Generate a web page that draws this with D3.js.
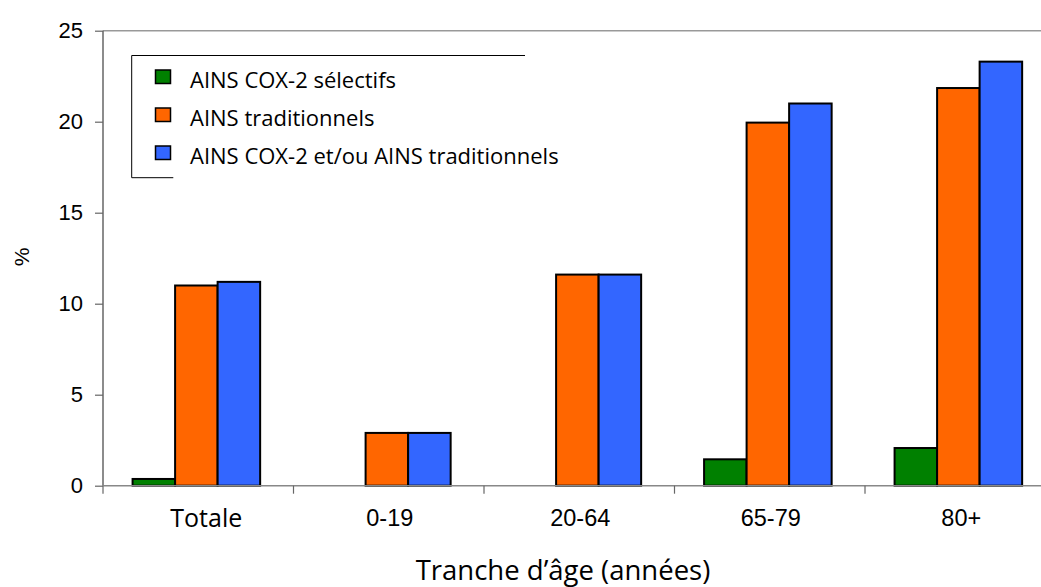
<!DOCTYPE html>
<html><head><meta charset="utf-8">
<script src="https://cdn.jsdelivr.net/npm/d3@7"></script>
<style>html,body{margin:0;padding:0;background:#fff;overflow:hidden}</style>
</head><body>
<svg id="chart" width="1041" height="587"></svg>
<script>
const categories = ["Totale", "0-19", "20-64", "65-79", "80+"];
const seriesNames = ["AINS COX-2 sélectifs", "AINS traditionnels", "AINS COX-2 et/ou AINS traditionnels"];
const seriesColors = ["#008000", "#FF6600", "#3366FF"];
const cox2 = [0.37, null, null, 1.45, 2.07];
const traditionnels = [11.0, 2.9, 11.6, 19.95, 21.85];
const combined = [11.2, 2.9, 11.6, 21.0, 23.3];
const yTicks = [0, 5, 10, 15, 20, 25];
const yTitle = "%";
const xTitle = "Tranche d’âge (années)";

(function () {
const seriesValues = [cox2, traditionnels, combined];
const svg = d3.select("#chart");
const mLeft = 103, mTop = 30.7, mBottom = 485.7, mRight = 1055.5;

const x0 = d3.scaleBand().domain(categories).range([mLeft, mRight]).padding(0);
const x1 = d3.scaleBand().domain(d3.range(seriesNames.length)).range([0, x0.bandwidth()]).paddingInner(0).paddingOuter(0.74).align(0.47);
const y = d3.scaleLinear().domain([0, 25]).range([mBottom, mTop]);

// top border line
svg.append("line").attr("x1", mLeft).attr("x2", 1041).attr("y1", mTop).attr("y2", mTop)
  .attr("stroke", "#999").attr("stroke-width", 1.5);

// bars
categories.forEach((c, i) => {
  seriesValues.forEach((vals, s) => {
    const v = vals[i];
    if (v == null) return;
    svg.append("rect")
      .attr("x", x0(c) + x1(s))
      .attr("y", y(v))
      .attr("width", x1.bandwidth())
      .attr("height", y(0) - y(v))
      .attr("fill", seriesColors[s])
      .attr("stroke", "#000")
      .attr("stroke-width", 2);
  });
});

// y axis
const yAxis = svg.append("g").attr("transform", `translate(${mLeft},0)`)
  .call(d3.axisLeft(y).tickValues(yTicks).tickSize(8).tickPadding(12).tickFormat(d3.format("d")));
yAxis.select(".domain").attr("stroke", "#666").attr("stroke-width", 1.5).attr("d", `M0,${mTop}V${mBottom}`);
yAxis.selectAll(".tick line").attr("stroke", "#666").attr("stroke-width", 1.2);
yAxis.selectAll(".tick text").attr("font-family", "Liberation Sans, Arial, sans-serif").attr("font-size", 22).attr("fill", "#000");

// x axis
const xAxis = svg.append("g").attr("transform", `translate(0,${mBottom})`)
  .call(d3.axisBottom(x0).tickSize(0).tickPadding(24));
xAxis.select(".domain").attr("stroke", "#888").attr("stroke-width", 1.5).attr("d", `M${mLeft},0H1041`);
xAxis.selectAll(".tick text")
  .attr("font-family", d => d === "Totale" ? "Open Sans, sans-serif" : "Liberation Sans, Arial, sans-serif")
  .attr("font-size", d => d === "Totale" ? 25 : 23.5)
  .attr("dx", d => d === "Totale" ? 8 : 1)
  .attr("fill", "#000");
// category separator ticks
const sepTicks = categories.map(c => x0(c));
svg.append("g").selectAll("line").data(sepTicks).join("line")
  .attr("x1", d => d).attr("x2", d => d).attr("y1", mBottom).attr("y2", mBottom + 8)
  .attr("stroke", "#666").attr("stroke-width", 1.2);

// titles
svg.append("text").attr("x", 563).attr("y", 580).attr("text-anchor", "middle")
  .attr("font-family", "Open Sans, sans-serif").attr("font-size", 27.5).attr("fill", "#000").text(xTitle);
svg.append("text").attr("transform", "translate(29,257) rotate(-90)").attr("text-anchor", "middle")
  .attr("font-family", "Liberation Sans, Arial, sans-serif").attr("font-size", 21).attr("fill", "#000").text(yTitle);

// legend
const lg = svg.append("g");
lg.append("path").attr("d", "M525,55.5H131.7V177.7H173.3").attr("fill", "none").attr("stroke", "#000").attr("stroke-width", 1);
seriesNames.forEach((n, i) => {
  const ry = 70 + i * 38;
  lg.append("rect").attr("x", 155.5).attr("y", ry).attr("width", 15).attr("height", 13.5)
    .attr("fill", seriesColors[i]).attr("stroke", "#000").attr("stroke-width", 1.5);
  lg.append("text").attr("x", 190).attr("y", ry + 17.5).attr("font-family", "Open Sans, sans-serif")
    .attr("font-size", 22).attr("fill", "#000").text(n);
});
})();
</script>
</body></html>
